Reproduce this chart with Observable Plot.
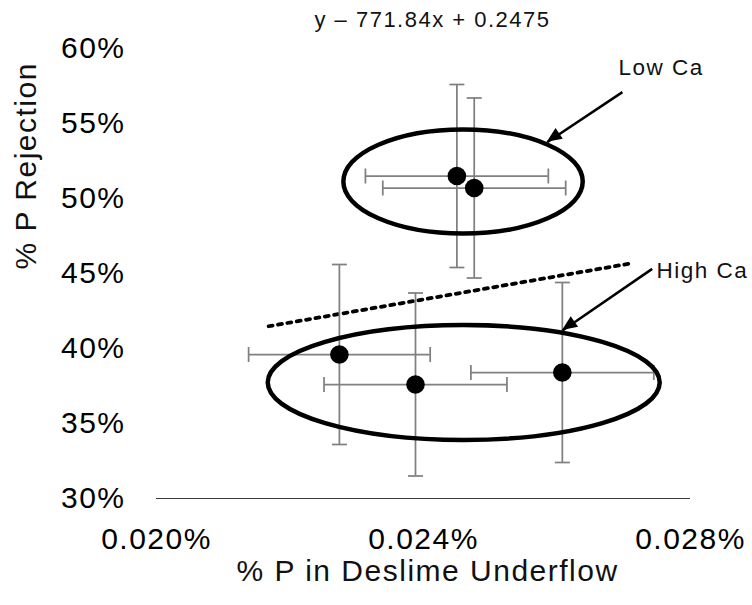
<!DOCTYPE html>
<html>
<head>
<meta charset="utf-8">
<script src="https://cdn.jsdelivr.net/npm/d3@7"></script>
<script src="https://cdn.jsdelivr.net/npm/@observablehq/plot@0.6"></script>
<style>
  html, body { margin: 0; padding: 0; background: #fff; }
</style>
</head>
<body>
<div id="chart"></div>
<script>
// ---- data (x and y in percent units) ----
const groups = ["Low Ca", "Low Ca", "High Ca", "High Ca", "High Ca"];
const pUnderflow = [0.02450, 0.02476, 0.02274, 0.02388, 0.02608];      // % P in Deslime Underflow
const pUnderflowErr = [0.00137, 0.00137, 0.00136, 0.00137, 0.00137];
const pRejection = [51.5, 50.7, 39.6, 37.6, 38.4];                     // % P Rejection
const pRejectionErr = [6.1, 6.0, 6.0, 6.1, 6.0];

const xTicks = [0.020, 0.024, 0.028];
const yTicks = [30, 35, 40, 45, 50, 55, 60];

// trendline as printed on the chart: y = 771.84x + 0.2475 (fractions) -> same slope, intercept 24.75 in percent
const trendSlope = 771.84;
const trendIntercept = 24.75;
const trendX = [0.02168, 0.02707];
const equationLabel = "y – 771.84x + 0.2475";
const equationAt = [0.024135, 61.87];

// group ellipses (centre and radii in data units)
const ellipseNames = ["Low Ca", "High Ca"];
const ellipseCx = [0.02460, 0.02461];
const ellipseCy = [51.1, 37.7];
const ellipseRx = [0.001793, 0.002936];
const ellipseRy = [3.47, 3.83];

// callouts
const calloutText = ["Low Ca", "High Ca"];
const calloutTextX = [0.026921, 0.027490];
const calloutTextY = [58.73, 45.2];
const arrowFromX = [0.026980, 0.027426];
const arrowFromY = [57.09, 45.31];
const arrowToX = [0.025853, 0.026083];
const arrowToY = [53.75, 41.2];

// ---- tables built from the arrays ----
const points = pUnderflow.map((x, i) => ({
  group: groups[i], x, y: pRejection[i],
  xLo: x - pUnderflowErr[i], xHi: x + pUnderflowErr[i],
  yLo: pRejection[i] - pRejectionErr[i], yHi: pRejection[i] + pRejectionErr[i]
}));
const trend = trendX.map(x => ({x, y: trendSlope * x + trendIntercept}));
const callouts = calloutText.map((t, i) => ({
  text: t, tx: calloutTextX[i], ty: calloutTextY[i],
  x1: arrowFromX[i], y1: arrowFromY[i], x2: arrowToX[i], y2: arrowToY[i]
}));

// cap symbols for error bars
const capH = {draw(ctx) { ctx.moveTo(-7.5, 0); ctx.lineTo(7.5, 0); }};
const capV = {draw(ctx) { ctx.moveTo(0, -7.5); ctx.lineTo(0, 7.5); }};

const errColor = "#808080";

function ellipseMark(index, scales) {
  const {x, y} = scales;
  const g = d3.create("svg:g");
  ellipseCx.forEach((cx, i) => {
    const px = x(cx), py = y(ellipseCy[i]);
    g.append("ellipse")
      .attr("cx", px).attr("cy", py)
      .attr("rx", Math.abs(x(cx + ellipseRx[i]) - px))
      .attr("ry", Math.abs(y(ellipseCy[i] - ellipseRy[i]) - py))
      .attr("fill", "none").attr("stroke", "#000").attr("stroke-width", 4.5);
  });
  return g.node();
}

function arrowHeads(index, scales) {
  const {x, y} = scales;
  const g = d3.create("svg:g");
  callouts.forEach(c => {
    const ax = x(c.x1), ay = y(c.y1), bx = x(c.x2), by = y(c.y2);
    const dx = bx - ax, dy = by - ay, L = Math.hypot(dx, dy);
    const ux = dx / L, uy = dy / L, nx = -uy, ny = ux;
    const len = 15, w = 6.5;
    const p = [
      [bx, by],
      [bx - ux * len + nx * w, by - uy * len + ny * w],
      [bx - ux * len - nx * w, by - uy * len - ny * w]
    ];
    g.append("polygon").attr("points", p.map(d => d.join(",")).join(" ")).attr("fill", "#000");
  });
  return g.node();
}

const chart = Plot.plot({
  width: 752,
  height: 605,
  marginLeft: 156,
  marginRight: 62,
  marginTop: 48,
  marginBottom: 107,
  style: {
    fontFamily: "'Liberation Sans', Arial, sans-serif",
    fontSize: "30px",
    letterSpacing: "1.5px",
    background: "#fff",
    color: "#000"
  },
  x: {domain: [0.020, 0.028]},
  y: {domain: [30, 60]},
  marks: [
    Plot.axisX(xTicks, {tickSize: 0, tickPadding: 29, tickFormat: d => d.toFixed(3) + "%", label: null}),
    Plot.axisY(yTicks, {tickSize: 0, tickPadding: 31, tickFormat: d => d + "%", label: null}),
    Plot.ruleY([30], {stroke: "#3a3a3a", strokeWidth: 1.2}),
    // trendline
    Plot.line(trend, {x: "x", y: "y", stroke: "#000", strokeWidth: 3.8, strokeDasharray: "4,5.5"}),
    Plot.text([equationLabel], {x: () => equationAt[0], y: () => equationAt[1], text: d => d, fontSize: 22, textAnchor: "middle", fill: "#111"}),
    // error bars
    Plot.ruleX(points, {x: "x", y1: "yLo", y2: "yHi", stroke: errColor, strokeWidth: 1.75}),
    Plot.ruleY(points, {y: "y", x1: "xLo", x2: "xHi", stroke: errColor, strokeWidth: 1.75}),
    Plot.dot(points, {x: "x", y: "yLo", symbol: capH, stroke: errColor, fill: "none", strokeWidth: 1.75}),
    Plot.dot(points, {x: "x", y: "yHi", symbol: capH, stroke: errColor, fill: "none", strokeWidth: 1.75}),
    Plot.dot(points, {x: "xLo", y: "y", symbol: capV, stroke: errColor, fill: "none", strokeWidth: 1.75}),
    Plot.dot(points, {x: "xHi", y: "y", symbol: capV, stroke: errColor, fill: "none", strokeWidth: 1.75}),
    // points
    Plot.dot(points, {x: "x", y: "y", r: 9.3, fill: "#000", stroke: "none"}),
    // group ellipses
    ellipseMark,
    // callouts
    Plot.link(callouts, {x1: "x1", y1: "y1", x2: "x2", y2: "y2", stroke: "#000", strokeWidth: 2.5}),
    arrowHeads,
    Plot.text(callouts, {x: "tx", y: "ty", text: "text", textAnchor: "start", fontSize: 22.5, fill: "#111"}),
    // axis titles
    Plot.text(["% P in Deslime Underflow"], {frameAnchor: "bottom", dy: 82, dx: 4, text: d => d, fontSize: 30, fill: "#111"}),
    Plot.text(["% P Rejection"], {frameAnchor: "left", rotate: -90, dx: -130, dy: -4, text: d => d, fontSize: 30, fill: "#111"})
  ]
});

document.getElementById("chart").appendChild(chart);
</script>
</body>
</html>
